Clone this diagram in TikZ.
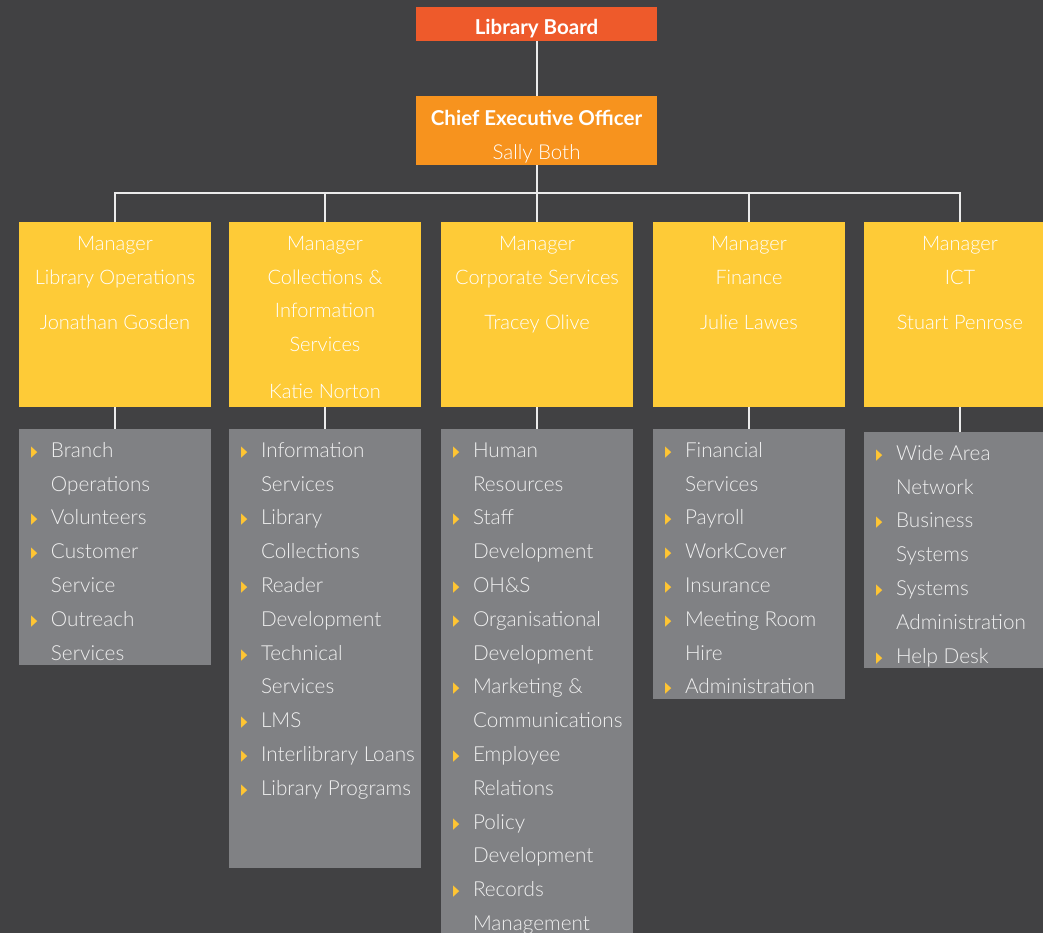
\documentclass[tikz,border=0pt]{standalone}
\usepackage{graphicx}
\usepackage{fontspec}
\setmainfont{Lato Light}[BoldFont=Lato Bold]
\newfontfamily\symfont{DejaVu Sans}

\definecolor{bgcol}{HTML}{414143}
\definecolor{boardcol}{HTML}{EE5A2B}
\definecolor{ceocol}{HTML}{F7931E}
\definecolor{mgrcol}{HTML}{FECB37}
\definecolor{deptcol}{HTML}{808184}
\definecolor{tipcol}{HTML}{FFC533}

% list lines inside the grey boxes
\newcommand{\tipmark}{{\symfont\fontsize{15}{15}\selectfont\color{tipcol}\raisebox{1pt}{\scalebox{0.55}[1]{▶}}}}
\newcommand{\itm}[1]{\hspace*{12pt}\makebox[20pt][l]{\tipmark}#1}
\newcommand{\more}[1]{\hspace*{32pt}#1}
\newcommand{\toptext}[4][28pt]{\parbox[c][#2][t]{#3}{\centering\rule{0pt}{#1}#4}}
\newcommand{\depttext}[2]{\parbox[c][#1][t]{192pt}{\raggedright\rule{0pt}{28pt}#2}}

\begin{document}
\begin{tikzpicture}[x=1pt,y=-1pt,
  every node/.style={inner sep=0pt,text=white,font=\fontsize{20}{33.8}\selectfont},
  board/.style={fill=boardcol,font=\fontsize{20.5}{34}\selectfont\bfseries},
  ceo/.style={fill=ceocol,font=\fontsize{20.5}{34}\selectfont},
  mgr/.style={fill=mgrcol,anchor=north},
  dept/.style={fill=deptcol,anchor=north,text=white!94!black,font=\fontsize{20.7}{33.8}\selectfont},
  wire/.style={draw=white!92!black,line width=2pt}]
 \useasboundingbox (0,0) rectangle (1043,933);
 \fill[bgcol] (0,0) rectangle (1043,933);
 \clip (0,0) rectangle (1043,933);

 \node[board] (board) at (536.5,24) {\toptext{34pt}{241pt}{Library Board}};
 \node[ceo] (ceo) at (536.5,130.5) {\toptext[30pt]{69pt}{241pt}{{\bfseries Chief Executive Officer}\\Sally Both}};
 \coordinate (bus) at (536.5,193);

 \node[mgr] (m1) at (115,222) {\toptext{185pt}{192pt}{Manager\\Library Operations\\[12pt]Jonathan Gosden}};
 \node[mgr] (m2) at (325,222) {\toptext{185pt}{192pt}{Manager\\Collections \&\\Information\\Services\\[13pt]Katie Norton}};
 \node[mgr] (m3) at (537,222) {\toptext{185pt}{192pt}{Manager\\Corporate Services\\[12pt]Tracey Olive}};
 \node[mgr] (m4) at (749,222) {\toptext{185pt}{192pt}{Manager\\Finance\\[12pt]Julie Lawes}};
 \node[mgr] (m5) at (960,222) {\toptext{185pt}{192pt}{Manager\\ICT\\[12pt]Stuart Penrose}};

 \node[dept] (d1) at (115,429) {\depttext{236pt}{\itm{Branch}\\\more{Operations}\\\itm{Volunteers}\\
   \itm{Customer}\\\more{Service}\\\itm{Outreach}\\\more{Services}}};
 \node[dept] (d2) at (325,429) {\depttext{439pt}{\itm{Information}\\\more{Services}\\\itm{Library}\\
   \more{Collections}\\\itm{Reader}\\\more{Development}\\\itm{Technical}\\\more{Services}\\
   \itm{LMS}\\\itm{Interlibrary Loans}\\\itm{Library Programs}}};
 \node[dept] (d3) at (537,429) {\depttext{540pt}{\itm{Human}\\\more{Resources}\\\itm{Staff}\\
   \more{Development}\\\itm{OH\&S}\\\itm{Organisational}\\\more{Development}\\\itm{Marketing \&}\\
   \more{Communications}\\\itm{Employee}\\\more{Relations}\\\itm{Policy}\\\more{Development}\\
   \itm{Records}\\\more{Management}}};
 \node[dept] (d4) at (749,429) {\depttext{270pt}{\itm{Financial}\\\more{Services}\\\itm{Payroll}\\
   \itm{WorkCover}\\\itm{Insurance}\\\itm{Meeting Room}\\\more{Hire}\\\itm{Administration}}};
 \node[dept] (d5) at (960,432) {\depttext{236pt}{\itm{Wide Area}\\\more{Network}\\\itm{Business}\\
   \more{Systems}\\\itm{Systems}\\\more{Administration}\\\itm{Help Desk}}};

 \draw[wire] (board) -- (ceo);
 \foreach \m in {m1,m2,m3,m4,m5}
   \draw[wire] (ceo.south) -- (bus) -| (\m.north);
 \foreach \m/\d in {m1/d1,m2/d2,m3/d3,m4/d4,m5/d5}
   \draw[wire] (\m) -- (\d);
\end{tikzpicture}
\end{document}
